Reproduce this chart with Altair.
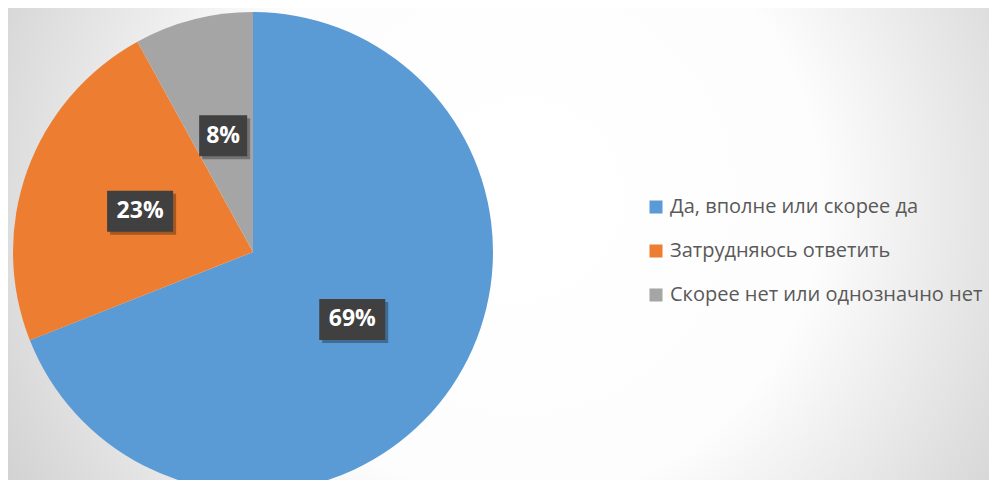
import altair as alt
import pandas as pd

categories = ["Да, вполне или скорее да", "Затрудняюсь ответить", "Скорее нет или однозначно нет"]
values = [69, 23, 8]
labels = ["69%", "23%", "8%"]
colors = ["#5B9BD5", "#ED7D31", "#A5A5A5"]
order_idx = [0, 1, 2]

W, H = 981, 472
CX, CY, R = 245, 244, 240
LR = R / 2
BOX_H = 41

df = pd.DataFrame({"cat": categories, "val": values, "lab": labels, "idx": order_idx})

grad = alt.RadialGradient(
    gradient="radial",
    stops=[
        alt.GradientStop(color="#FFFFFF", offset=0),
        alt.GradientStop(color="#FDFDFD", offset=0.46),
        alt.GradientStop(color="#C8C8C8", offset=1),
    ],
    x1=0.522, y1=0.455, r1=0, x2=0.522, y2=0.455, r2=0.663,
)

bg = alt.Chart(pd.DataFrame({"a": [0]})).mark_rect(fill=grad).encode(
    x=alt.value(0), x2=alt.value(W), y=alt.value(0), y2=alt.value(H)
)

base = alt.Chart(df)

pie = base.mark_arc(outerRadius=R).encode(
    theta=alt.Theta("val:Q", stack=True),
    order=alt.Order("idx:Q"),
    color=alt.Color(
        "cat:N",
        scale=alt.Scale(domain=categories, range=colors),
        legend=alt.Legend(
            title=None,
            orient="none",
            legendX=628,
            legendY=179,
            symbolType="square",
            symbolSize=169,
            symbolStrokeWidth=0,
            labelFontSize=20,
            labelFont="Open Sans",
            labelColor="#595959",
            rowPadding=24,
            labelOffset=4,
            padding=10,
            labelLimit=500,
        ),
    ),
    x=alt.value(CX),
    y=alt.value(CY),
)

pos = (
    base.transform_joinaggregate(total="sum(val)")
    .transform_window(cum="sum(val)", sort=[alt.SortField("idx")], frame=[None, 0])
    .transform_calculate(mid="(datum.cum - datum.val/2) / datum.total * 2 * PI")
    .transform_calculate(lx=f"{CX} + {LR} * sin(datum.mid)")
    .transform_calculate(ly=f"{CY} - {LR} * cos(datum.mid)")
    .transform_calculate(bw="12 + 18 * length(datum.lab)")
    .transform_calculate(bx1="datum.lx - datum.bw / 2")
    .transform_calculate(bx2="datum.lx + datum.bw / 2")
    .transform_calculate(by1=f"datum.ly - {BOX_H / 2}")
    .transform_calculate(by2=f"datum.ly + {BOX_H / 2}")
    .transform_calculate(sx1="datum.bx1 + 3", sx2="datum.bx2 + 3")
    .transform_calculate(sy1="datum.by1 + 3", sy2="datum.by2 + 3")
)

shadow = pos.mark_rect(color="#000000", opacity=0.3).encode(
    x=alt.X("sx1:Q", scale=None), x2="sx2:Q",
    y=alt.Y("sy1:Q", scale=None), y2="sy2:Q",
)

box = pos.mark_rect(color="#404040").encode(
    x=alt.X("bx1:Q", scale=None), x2="bx2:Q",
    y=alt.Y("by1:Q", scale=None), y2="by2:Q",
)

txt = pos.mark_text(
    font="Open Sans", fontSize=23, fontWeight="bold", color="#FFFFFF",
    align="center", baseline="middle",
).encode(
    x=alt.X("lx:Q", scale=None),
    y=alt.Y("ly:Q", scale=None),
    text="lab:N",
)

chart = (
    alt.layer(bg, pie, shadow, box, txt)
    .properties(width=W, height=H, padding=0, autosize=alt.AutoSizeParams(type="none"))
    .configure_view(stroke=None)
)

chart.save("out.html", embed_options={"renderer": "svg", "actions": False})
